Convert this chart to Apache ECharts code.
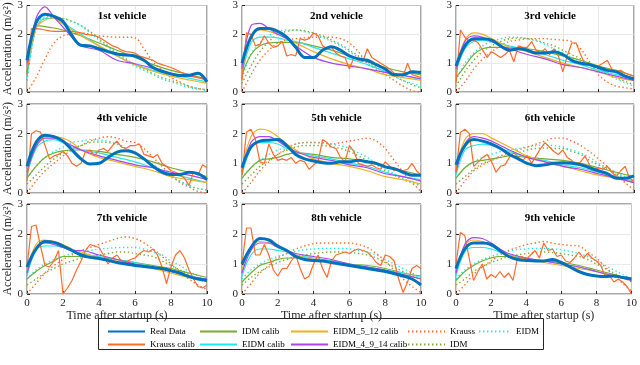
<!DOCTYPE html>
<html>
<head>
<meta charset="utf-8">
<script src="https://cdn.jsdelivr.net/npm/echarts@6/dist/echarts.min.js"></script>
<style>html,body{margin:0;padding:0;background:#fff}#main{width:640px;height:365px}</style>
</head>
<body>
<div id="main"></div>
<script>
// time bases (s)
const T_HALF = [0,0.5,1,1.5,2,2.5,3,3.5,4,4.5,5,5.5,6,6.5,7,7.5,8,8.5,9,9.5,10];
const T_QUARTER = [0,0.25,0.5,0.75,1,1.25,1.5,1.75,2,2.25,2.5,2.75,3,3.25,3.5,3.75,4,4.25,4.5,4.75,5,
  5.25,5.5,5.75,6,6.25,6.5,6.75,7,7.25,7.5,7.75,8,8.25,8.5,8.75,9,9.25,9.5,9.75,10];
const T_MODEL = [0,0.5,1,1.5,2,2.5,3,4,5,6,7,8,9,10];

const VEHICLES = ['1st vehicle','2nd vehicle','3rd vehicle','4th vehicle','5th vehicle',
  '6th vehicle','7th vehicle','8th vehicle','9th vehicle'];

// Real Data (T_HALF), one row per vehicle
const realData = [
  [1.1,2.4,2.7,2.62,2.45,1.95,1.62,1.6,1.5,1.4,1.32,1.28,1.25,1.1,0.85,0.72,0.63,0.57,0.58,0.65,0.35],
  [1.0,1.9,2.2,2.2,2.1,1.9,1.55,1.2,1.2,1.45,1.57,1.45,1.25,1.15,1.1,0.95,0.8,0.6,0.6,0.7,0.68],
  [0.9,1.6,1.85,1.85,1.8,1.6,1.45,1.5,1.45,1.35,1.35,1.4,1.3,1.1,1.0,0.95,0.85,0.75,0.7,0.55,0.45],
  [0.9,1.7,1.95,1.9,1.75,1.45,1.15,0.98,1.0,1.2,1.38,1.42,1.35,1.15,0.9,0.7,0.62,0.62,0.7,0.65,0.45],
  [0.85,1.55,1.75,1.78,1.8,1.6,1.3,1.15,1.08,1.02,1.0,1.05,1.05,1.1,1.05,1.0,0.88,0.82,0.7,0.6,0.6],
  [0.95,1.6,1.8,1.75,1.65,1.5,1.3,1.15,1.0,0.92,0.95,1.0,1.02,1.0,0.95,0.85,0.75,0.65,0.5,0.5,0.58],
  [0.9,1.5,1.75,1.72,1.6,1.45,1.3,1.22,1.18,1.12,1.05,1.0,0.95,0.92,0.88,0.85,0.78,0.7,0.58,0.5,0.45],
  [1.0,1.55,1.85,1.8,1.6,1.45,1.25,1.15,1.12,1.1,1.05,1.0,0.95,0.9,0.85,0.8,0.75,0.68,0.6,0.5,0.3],
  [0.85,1.5,1.7,1.7,1.65,1.45,1.25,1.15,1.12,1.1,1.1,1.15,1.05,0.9,0.75,0.65,0.6,0.58,0.6,0.55,0.5]
];

// Krauss calib (T_QUARTER)
const kraussCalib = [
  [0.6,2.2,2.2,2.18,2.15,2.12,2.1,2.1,2.1,2.1,2.1,2.08,2.05,2.0,1.98,1.95,1.9,1.8,1.7,1.6,1.55,1.45,1.4,1.38,1.35,1.25,1.2,1.15,1.1,1.0,0.95,0.9,0.85,0.78,0.7,0.65,0.6,0.55,0.5,0.45,0.4],
  [0.4,2.05,2.0,1.6,1.65,1.95,1.7,1.55,1.6,1.75,1.25,1.3,1.25,1.85,1.8,1.85,2.05,1.95,1.6,1.5,1.55,1.35,1.25,1.2,0.8,1.2,1.1,1.05,1.5,1.2,1.1,1.0,0.9,0.8,0.65,0.6,0.55,1.0,0.6,0.55,0.5],
  [0.3,2.15,1.9,1.75,1.8,1.7,1.45,1.2,1.4,1.3,1.2,1.3,1.45,1.05,1.6,1.55,1.55,1.75,1.45,1.35,1.5,1.3,1.5,1.25,0.7,1.25,1.7,1.7,1.3,0.95,1.0,0.85,0.9,1.0,1.1,0.8,0.7,0.75,0.65,0.6,0.55],
  [0.4,2.0,2.1,2.05,1.6,1.15,1.25,1.3,1.4,1.25,1.0,0.9,1.0,1.4,1.45,1.25,1.45,1.5,1.4,1.6,1.75,1.55,1.5,1.6,1.6,1.65,1.3,1.25,1.2,1.3,1.0,0.9,0.75,0.7,0.6,0.5,0.25,0.7,0.6,0.95,0.85],
  [0.6,2.05,2.15,1.8,1.05,1.0,1.65,1.3,1.1,1.15,1.1,1.2,1.0,1.1,1.05,0.8,0.95,1.05,1.8,1.7,1.55,1.5,1.2,1.05,1.6,1.4,1.0,0.95,0.9,0.95,0.85,0.8,1.05,0.9,0.75,0.8,0.75,0.8,1.0,0.75,0.6],
  [0.7,2.05,2.15,2.0,0.9,1.05,1.2,1.3,1.05,0.7,0.9,0.95,1.2,1.35,1.2,1.1,1.25,1.0,1.25,1.5,1.7,1.55,1.4,1.3,1.45,1.2,1.1,0.95,1.05,1.25,0.95,0.75,0.85,0.8,0.9,0.7,0.55,0.75,0.9,0.5,0.4],
  [0.9,2.25,2.3,1.6,0.95,0.9,1.1,1.45,0.0,0.2,0.45,0.8,1.1,1.45,1.65,1.6,1.55,1.3,1.0,1.2,1.3,1.1,1.05,1.15,1.2,1.35,1.45,1.4,1.5,1.3,0.9,0.35,0.9,1.3,1.45,1.2,0.8,0.5,0.25,0.2,0.3],
  [1.0,2.2,2.2,1.3,1.3,1.65,1.3,0.8,0.6,0.85,0.85,1.1,1.3,0.85,0.5,0.6,1.0,1.3,0.85,0.55,1.1,1.3,1.35,1.4,1.35,1.45,1.5,1.45,1.4,1.25,1.05,0.95,1.3,1.25,1.1,0.5,0.05,0.4,0.85,0.95,0.85],
  [1.0,2.05,1.95,1.2,0.45,0.75,1.0,0.5,0.65,0.55,0.75,0.55,0.7,0.45,1.2,1.25,1.15,1.3,1.45,1.2,1.7,1.45,1.5,1.25,1.3,1.1,1.05,1.2,1.4,1.2,1.35,1.2,1.1,0.95,0.6,0.6,0.4,0.5,0.4,0.25,0.0]
];

// IDM calib (T_MODEL)
const idmCalib = [
  [0.6,2.3,2.27,2.22,2.15,2.05,1.95,1.7,1.45,1.2,0.95,0.75,0.6,0.45],
  [0.6,1.3,1.6,1.7,1.72,1.72,1.72,1.6,1.45,1.25,1.05,0.85,0.7,0.6],
  [0.5,0.9,1.3,1.5,1.55,1.55,1.55,1.5,1.4,1.25,1.1,0.9,0.75,0.55],
  [0.5,0.9,1.2,1.35,1.42,1.45,1.45,1.4,1.3,1.2,1.05,0.85,0.7,0.55],
  [0.5,0.85,1.1,1.15,1.2,1.3,1.35,1.3,1.2,1.15,1.05,0.9,0.75,0.6],
  [0.5,0.85,1.05,1.1,1.15,1.2,1.25,1.2,1.15,1.1,1.0,0.85,0.7,0.55],
  [0.5,0.75,0.95,1.1,1.25,1.25,1.25,1.2,1.15,1.05,0.95,0.85,0.7,0.55],
  [0.4,0.7,0.95,1.05,1.15,1.2,1.2,1.15,1.1,1.0,0.95,0.85,0.7,0.6],
  [0.45,0.75,0.95,1.1,1.2,1.25,1.25,1.15,1.1,1.05,0.95,0.8,0.65,0.5]
];

// EIDM calib (T_MODEL)
const eidmCalib = [
  [0.5,2.2,2.55,2.55,2.4,2.2,2.0,1.6,1.25,0.95,0.75,0.6,0.48,0.35],
  [0.6,1.7,1.9,1.9,1.88,1.8,1.75,1.55,1.35,1.15,0.95,0.72,0.57,0.45],
  [0.7,1.5,1.75,1.8,1.75,1.68,1.6,1.45,1.3,1.1,0.95,0.75,0.6,0.45],
  [0.6,1.5,1.75,1.8,1.7,1.55,1.45,1.35,1.2,1.05,0.85,0.65,0.5,0.35],
  [0.6,1.5,1.7,1.7,1.65,1.5,1.4,1.25,1.15,1.0,0.9,0.7,0.55,0.45],
  [0.6,1.45,1.6,1.65,1.6,1.5,1.4,1.2,1.1,0.95,0.85,0.7,0.55,0.4],
  [0.6,1.45,1.6,1.6,1.55,1.45,1.35,1.25,1.15,1.05,0.9,0.75,0.6,0.5],
  [0.6,1.3,1.5,1.5,1.45,1.4,1.3,1.2,1.1,1.0,0.9,0.8,0.7,0.55],
  [0.6,1.4,1.55,1.55,1.5,1.4,1.3,1.2,1.1,1.0,0.9,0.75,0.6,0.5]
];

// EIDM_5_12 calib (T_MODEL)
const eidm512Calib = [
  [0.8,2.2,2.5,2.55,2.35,2.15,1.95,1.6,1.25,0.95,0.72,0.55,0.42,0.3],
  [0.7,1.9,2.15,2.1,2.0,1.85,1.7,1.4,1.15,0.95,0.8,0.6,0.5,0.4],
  [0.8,1.8,2.05,2.0,1.85,1.7,1.55,1.4,1.2,1.0,0.85,0.7,0.5,0.4],
  [0.7,1.6,1.9,1.9,1.85,1.7,1.45,1.2,1.05,0.9,0.75,0.55,0.45,0.35],
  [0.8,1.9,2.15,2.1,1.9,1.65,1.45,1.15,1.0,0.9,0.75,0.55,0.45,0.3],
  [0.8,1.8,2.0,2.0,1.85,1.7,1.55,1.25,1.05,0.9,0.75,0.6,0.5,0.35],
  [0.8,1.65,1.8,1.75,1.65,1.5,1.4,1.2,1.1,1.0,0.85,0.7,0.55,0.45],
  [0.8,1.55,1.75,1.7,1.55,1.4,1.3,1.15,1.05,0.95,0.85,0.75,0.65,0.5],
  [0.8,1.6,1.8,1.75,1.6,1.45,1.3,1.15,1.05,0.95,0.85,0.75,0.6,0.45]
];

// EIDM_4_9_14 calib (T_MODEL)
const eidm4914Calib = [
  [1.0,2.55,2.95,2.6,2.25,1.9,1.6,1.45,1.1,0.98,0.82,0.65,0.55,0.45],
  [0.8,2.3,2.38,2.2,2.0,1.85,1.6,1.2,1.0,0.9,0.8,0.68,0.58,0.45],
  [0.8,1.75,1.95,1.9,1.75,1.6,1.5,1.3,1.15,0.95,0.85,0.7,0.55,0.4],
  [0.7,1.55,1.85,1.85,1.75,1.6,1.45,1.25,1.1,0.95,0.85,0.7,0.6,0.45],
  [0.7,1.7,1.9,1.9,1.75,1.55,1.4,1.2,1.1,0.95,0.85,0.65,0.55,0.4],
  [0.7,1.65,1.9,1.85,1.75,1.6,1.45,1.2,1.05,0.9,0.8,0.65,0.5,0.35],
  [0.7,1.5,1.7,1.65,1.55,1.45,1.45,1.3,1.15,1.0,0.9,0.75,0.6,0.5],
  [0.7,1.45,1.7,1.7,1.55,1.45,1.35,1.25,1.15,1.0,0.9,0.8,0.65,0.5],
  [0.7,1.65,1.88,1.85,1.7,1.5,1.35,1.2,1.1,1.0,0.9,0.75,0.6,0.45]
];

// Krauss (uncalibrated, T_HALF)
const krauss = [
  [0,0.5,1.15,1.7,1.95,2.0,2.05,2.0,1.95,1.92,1.9,1.9,1.88,1.5,1.05,0.75,0.5,0.35,0.2,0.12,0.08],
  [0,0.6,1.1,1.45,1.7,1.8,1.85,1.88,1.9,1.9,1.9,1.85,1.7,1.4,1.0,0.8,0.6,0.4,0.2,0.05,0],
  [0,0.35,0.8,1.15,1.4,1.6,1.75,1.8,1.85,1.85,1.85,1.82,1.8,1.75,1.5,1.05,0.6,0.35,0.2,0.15,0.1],
  [0,0.4,0.75,1.0,1.25,1.45,1.6,1.75,1.85,1.9,1.85,1.75,1.7,1.5,1.2,0.9,0.6,0.35,0.2,0.05,0],
  [0,0.35,0.75,1.05,1.3,1.5,1.65,1.7,1.7,1.68,1.65,1.7,1.75,1.8,1.85,1.75,1.5,1.1,0.7,0.35,0.05],
  [0,0.4,0.75,0.95,1.1,1.25,1.35,1.45,1.55,1.65,1.75,1.85,1.85,1.75,1.6,1.4,1.15,0.9,0.6,0.35,0.1],
  [0,0.35,0.7,0.95,1.15,1.3,1.45,1.55,1.65,1.75,1.85,1.9,1.85,1.7,1.5,1.25,1.0,0.75,0.5,0.3,0.15],
  [0,0.35,0.7,0.95,1.2,1.35,1.5,1.6,1.68,1.7,1.7,1.7,1.7,1.65,1.55,1.35,1.1,0.8,0.5,0.25,0.05],
  [0,0.3,0.65,0.9,1.1,1.3,1.45,1.55,1.65,1.7,1.75,1.7,1.65,1.62,1.6,1.4,1.2,0.9,0.6,0.35,0.1]
];

// IDM (uncalibrated, T_HALF)
const idm = [
  [0.4,2.2,2.55,2.58,2.55,2.45,2.3,2.1,1.85,1.6,1.35,1.15,0.95,0.8,0.65,0.5,0.4,0.3,0.2,0.12,0.08],
  [0.3,0.9,1.4,1.75,2.0,2.1,2.15,2.12,2.05,1.95,1.8,1.65,1.45,1.25,1.05,0.85,0.7,0.55,0.4,0.25,0.15],
  [0.2,0.7,1.1,1.4,1.6,1.75,1.85,1.87,1.85,1.8,1.7,1.6,1.45,1.3,1.15,0.97,0.8,0.65,0.5,0.37,0.25],
  [0.3,0.6,0.9,1.15,1.35,1.5,1.6,1.7,1.72,1.7,1.65,1.5,1.35,1.15,0.95,0.75,0.55,0.4,0.25,0.15,0.1],
  [0.3,0.6,0.9,1.1,1.3,1.45,1.55,1.6,1.6,1.6,1.55,1.5,1.4,1.25,1.1,0.95,0.75,0.6,0.45,0.35,0.25],
  [0.3,0.55,0.8,1.0,1.1,1.2,1.3,1.35,1.45,1.5,1.52,1.5,1.5,1.4,1.3,1.1,0.95,0.8,0.65,0.5,0.35],
  [0.3,0.5,0.7,0.85,1.0,1.1,1.2,1.25,1.3,1.35,1.4,1.4,1.35,1.3,1.25,1.1,0.95,0.8,0.65,0.5,0.4],
  [0.3,0.55,0.75,0.9,1.05,1.15,1.25,1.3,1.35,1.38,1.4,1.4,1.38,1.35,1.3,1.2,1.05,0.9,0.75,0.6,0.45],
  [0.3,0.5,0.75,0.9,1.05,1.15,1.25,1.3,1.35,1.38,1.4,1.38,1.35,1.3,1.25,1.15,1.0,0.85,0.7,0.55,0.4]
];

// EIDM (uncalibrated, T_HALF)
const eidm = [
  [0.5,2.3,2.6,2.6,2.55,2.45,2.3,2.05,1.8,1.55,1.3,1.1,0.9,0.75,0.6,0.45,0.35,0.25,0.15,0.1,0.05],
  [0.5,1.3,1.7,1.95,2.1,2.15,2.15,2.1,2.0,1.9,1.75,1.6,1.4,1.2,1.0,0.85,0.7,0.55,0.4,0.3,0.2],
  [0.4,1.0,1.35,1.6,1.75,1.85,1.9,1.9,1.85,1.77,1.65,1.5,1.35,1.2,1.05,0.9,0.75,0.6,0.45,0.32,0.2],
  [0.5,0.9,1.2,1.4,1.55,1.7,1.75,1.8,1.78,1.75,1.65,1.5,1.35,1.15,0.95,0.75,0.55,0.4,0.25,0.15,0.1],
  [0.5,0.85,1.1,1.3,1.45,1.55,1.65,1.7,1.7,1.7,1.65,1.6,1.5,1.35,1.2,1.0,0.8,0.65,0.5,0.35,0.25],
  [0.5,0.85,1.05,1.2,1.3,1.4,1.45,1.5,1.55,1.6,1.62,1.6,1.55,1.45,1.35,1.2,1.0,0.85,0.7,0.55,0.4],
  [0.5,0.8,1.0,1.15,1.25,1.35,1.4,1.45,1.5,1.52,1.55,1.55,1.55,1.5,1.4,1.3,1.1,0.95,0.75,0.6,0.45],
  [0.5,0.8,1.0,1.15,1.25,1.35,1.42,1.48,1.5,1.52,1.52,1.52,1.5,1.45,1.4,1.3,1.15,1.0,0.85,0.7,0.55],
  [0.5,0.8,1.0,1.15,1.25,1.35,1.42,1.48,1.5,1.52,1.52,1.5,1.48,1.42,1.35,1.25,1.1,0.95,0.8,0.65,0.5]
];

// legend columns (MATLAB fills columns first)
const LEGEND_COLS = [
  ['Real Data', 'Krauss calib'],
  ['IDM calib', 'EIDM calib'],
  ['EIDM_5_12 calib', 'EIDM_4_9_14 calib'],
  ['Krauss', 'IDM'],
  ['EIDM']
];

const FONT = 'Liberation Serif';
const INK = '#262626';
const ORANGE = '#FF6A2A', GREEN = '#77AC30', CYAN = '#22E8EE', GOLD = '#EDB120', PURPLE = '#A846F0', BLUE = '#0072BD';

// drawing order: dotted first, real data last (on top)
const SERIES_DEFS = [
  {name: 'Krauss', data: krauss, t: T_HALF, color: ORANGE, width: 1.4, dot: true},
  {name: 'IDM', data: idm, t: T_HALF, color: GREEN, width: 1.4, dot: true},
  {name: 'EIDM', data: eidm, t: T_HALF, color: CYAN, width: 1.4, dot: true},
  {name: 'IDM calib', data: idmCalib, t: T_MODEL, color: GREEN, width: 1.2},
  {name: 'EIDM calib', data: eidmCalib, t: T_MODEL, color: CYAN, width: 1.2},
  {name: 'EIDM_5_12 calib', data: eidm512Calib, t: T_MODEL, color: GOLD, width: 1.2},
  {name: 'EIDM_4_9_14 calib', data: eidm4914Calib, t: T_MODEL, color: PURPLE, width: 1.2},
  {name: 'Krauss calib', data: kraussCalib, t: T_QUARTER, color: ORANGE, width: 1.2, raw: true},
  {name: 'Real Data', data: realData, t: T_HALF, color: BLUE, width: 3}
];

const colLeft = [27, 242, 456], colWidth = [180, 179, 178];
const rowTop = [2, 104, 204], rowHeight = [90, 89, 90];

let grids = [], xAxes = [], yAxes = [], titles = [], series = [];
for (let i = 0; i < 9; i++) {
    let r = Math.floor(i / 3), c = i % 3;
    let g = {left: colLeft[c], top: rowTop[r], width: colWidth[c], height: rowHeight[r]};
    grids.push(Object.assign({show: true, borderColor: INK, borderWidth: 0.8, backgroundColor: '#fff'}, g));
    titles.push({
        text: VEHICLES[i], left: g.left + g.width / 2, top: g.top + 4, textAlign: 'center',
        textStyle: {fontFamily: FONT, fontSize: 11, fontWeight: 'bold', color: '#000'}
    });
    xAxes.push({
        gridIndex: i, type: 'value', min: 0, max: 10, interval: 2,
        axisLine: {show: false},
        axisTick: {show: true, inside: true, length: 3, lineStyle: {color: INK}},
        axisLabel: {show: r === 2, fontFamily: FONT, fontSize: 11, color: INK, margin: 4},
        splitLine: {show: true, lineStyle: {color: '#e3e3e3', width: 0.8}},
        name: r === 2 ? 'Time after startup (s)' : '',
        nameLocation: 'middle', nameGap: 14,
        nameTextStyle: {fontFamily: FONT, fontSize: 12, color: INK}
    });
    yAxes.push({
        gridIndex: i, type: 'value', min: 0, max: 3, interval: 1,
        axisLine: {show: false},
        axisTick: {show: true, inside: true, length: 3, lineStyle: {color: INK}},
        axisLabel: {fontFamily: FONT, fontSize: 11, color: INK, margin: 4},
        splitLine: {show: true, lineStyle: {color: '#e3e3e3', width: 0.8}},
        name: c === 0 ? 'Acceleration (m/s²)' : '',
        nameLocation: 'middle', nameGap: 11,
        nameTextStyle: {fontFamily: FONT, fontSize: 12, color: INK}
    });
    SERIES_DEFS.forEach(function (d) {
        let vals = d.data[i];
        series.push({
            type: 'line', name: d.name, xAxisIndex: i, yAxisIndex: i,
            data: d.t.map(function (t, k) { return [t, vals[k]]; }),
            symbol: 'none', smooth: d.raw ? false : 0.35,
            color: d.color,
            lineStyle: {color: d.color, width: d.width, type: d.dot ? [1.4, 2.6] : 'solid'},
            animation: false, silent: true
        });
    });
}

const legendLeft = [102, 194, 285, 402, 473];
let legends = LEGEND_COLS.map(function (names, k) {
    return {
        data: names, orient: 'vertical', left: legendLeft[k], top: 322,
        itemWidth: k === 4 ? 32 : 37, itemHeight: 10, itemGap: 4, selectedMode: false,
        itemStyle: {opacity: 0},
        textStyle: {fontFamily: FONT, fontSize: 9, color: '#000'}
    };
});

let option = {
    backgroundColor: '#fff',
    title: titles,
    grid: grids,
    xAxis: xAxes,
    yAxis: yAxes,
    legend: legends,
    graphic: [{
        type: 'rect', z: 0,
        shape: {x: 98.5, y: 318.5, width: 445, height: 31},
        style: {fill: '#fff', stroke: INK, lineWidth: 1}
    }],
    series: series
};

let myChart = echarts.init(document.getElementById('main'));
myChart.setOption(option);
</script>
</body>
</html>
